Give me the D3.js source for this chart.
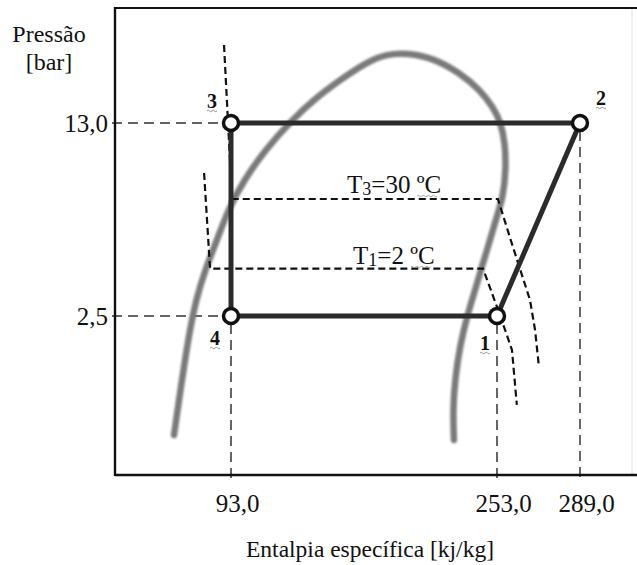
<!DOCTYPE html>
<html>
<head>
<meta charset="utf-8">
<script src="https://cdn.jsdelivr.net/npm/d3@7"></script>
<style>
  html, body { margin: 0; padding: 0; background: #fff; }
  svg { display: block; }
  text { font-family: "Liberation Serif", "DejaVu Serif", serif; fill: #111; }
</style>
</head>
<body>
<svg id="chart" width="637" height="565"></svg>
<script>
// ---- data (enthalpy h [kJ/kg], pressure p [bar]) ----
const hTicks = [93, 253, 289];
const pTicks = [13, 2.5];

// cycle states: 1 -> 2 -> 3 -> 4 -> 1
const stateNames = ["1", "2", "3", "4"];
const stateH = [253, 289, 93, 93];
const stateP = [2.5, 13, 13, 2.5];

// saturation dome (schematic), left foot -> top -> right foot
const domeH = [58.7, 61.7, 65.3, 68.3, 71.9, 77.4, 84.6, 91.2, 100.8, 113.5, 129.7, 144.1, 158.6, 174.8, 186.8, 198.9, 214.5, 230.7, 242.8, 250.6, 254.7, 256.5, 256.9, 255.6, 253.4, 248.8, 244.6, 239.8, 235.6, 230.7, 227.7, 226.5, 227.1];
const domeP = [0.905, 1.22, 1.717, 2.218, 2.866, 3.703, 4.785, 6.183, 7.988, 10.32, 13.34, 16.10, 18.77, 21.89, 23.44, 23.64, 22.65, 19.93, 17.23, 14.90, 13.0, 10.96, 8.70, 6.91, 6.03, 4.79, 3.93, 3.12, 2.57, 1.95, 1.447, 1.12, 0.867];

// isotherms (schematic)
const isoT3H = [88.8, 93.6, 253.4, 259.9, 267.3, 269.5, 271.2];
const isoT3P = [25.3, 6.79, 6.79, 4.51, 2.87, 2.22, 1.62];
const isoT1H = [76.8, 80.4, 244.6, 253.0, 256.5, 259.5, 261.6];
const isoT1P = [8.48, 3.75, 3.75, 2.70, 2.22, 1.87, 1.17];

const isoLabels = ["T", "3", "=30 ºC"];
const isoLabels1 = ["T", "1", "=2 ºC"];

const yTitle = ["Pressão", "[bar]"];
const xTitle = "Entalpia específica [kj/kg]";

// ---- scales ----
const svg = d3.select("#chart");
const x = d3.scaleLinear()
  .domain([23.2, 93, 253, 289, 313.7])
  .range([115, 231, 497, 580, 637]);
const y = d3.scaleLog()
  .domain([0.643, 34.7])
  .range([475, 8]);

const fmt = d => d.toFixed(1).replace(".", ",");
const serif = "Liberation Serif, DejaVu Serif, serif";

// blur for the dome
const defs = svg.append("defs");
defs.append("filter").attr("id", "soft")
  .append("feGaussianBlur").attr("stdDeviation", 0.9);

// frame
const x0 = x.range()[0], x1 = 637, yTop = y.range()[1], yBot = y.range()[0];
svg.append("line").attr("x1", 632).attr("x2", 632).attr("y1", yTop).attr("y2", yBot)
  .attr("stroke", "#e4e4e4").attr("stroke-width", 1.2);
svg.append("line").attr("x1", x0).attr("x2", x1).attr("y1", yTop).attr("y2", yTop)
  .attr("stroke", "#111").attr("stroke-width", 2.2);

// dashed reference lines
const refG = svg.append("g").attr("stroke", "#333").attr("stroke-width", 1.5)
  .attr("stroke-dasharray", "10,6").attr("fill", "none");
[[stateH[2], stateP[2]], [stateH[3], stateP[3]]].forEach(([h, p]) => {
  refG.append("line").attr("x1", x0 - 3).attr("x2", x(h) - 8).attr("y1", y(p)).attr("y2", y(p));
});
[[stateH[3], stateP[3]], [stateH[0], stateP[0]], [stateH[1], stateP[1]]].forEach(([h, p]) => {
  refG.append("line").attr("x1", x(h)).attr("x2", x(h)).attr("y1", y(p) + 8).attr("y2", yBot + 3);
});

// dome
svg.append("path")
  .datum(d3.zip(domeH, domeP))
  .attr("d", d3.line().x(d => x(d[0])).y(d => y(d[1])).curve(d3.curveBasis))
  .attr("fill", "none").attr("stroke", "#7a7a7a").attr("stroke-width", 6.5)
  .attr("stroke-linecap", "round").attr("filter", "url(#soft)");

// isotherms
const isoLine = d3.line().x(d => x(d[0])).y(d => y(d[1])).curve(d3.curveLinear);
[[isoT3H, isoT3P], [isoT1H, isoT1P]].forEach(([hs, ps]) => {
  svg.append("path").datum(d3.zip(hs, ps)).attr("d", isoLine)
    .attr("fill", "none").attr("stroke", "#111").attr("stroke-width", 2.2)
    .attr("stroke-dasharray", "7,4");
});

// cycle
const order = [0, 1, 2, 3, 0];
svg.append("path")
  .datum(order.map(i => [stateH[i], stateP[i]]))
  .attr("d", d3.line().x(d => x(d[0])).y(d => y(d[1])))
  .attr("fill", "none").attr("stroke", "#2b2b2b").attr("stroke-width", 5)
  .attr("stroke-linejoin", "round");

svg.append("g").selectAll("circle")
  .data(d3.range(4))
  .join("circle")
  .attr("cx", i => x(stateH[i])).attr("cy", i => y(stateP[i]))
  .attr("r", 7.5).attr("fill", "#fff").attr("stroke", "#111").attr("stroke-width", 3.5);

// state labels
const labelOffsets = { "1": [-12, 34], "2": [21, -18], "3": [-19, -15], "4": [-16, 29] };
stateNames.forEach((n, i) => {
  const [dx, dy] = labelOffsets[n];
  const lx = x(stateH[i]) + dx, ly = y(stateP[i]) + dy;
  svg.append("text").attr("x", lx).attr("y", ly)
    .attr("text-anchor", "middle").attr("font-size", 20).attr("font-weight", "bold")
    .text(n);
  svg.append("path")
    .attr("d", `M${lx - 5},${ly + 3} q1.25,-1.5 2.5,0 t2.5,0 t2.5,0 t2.5,0`)
    .attr("fill", "none").attr("stroke", "#888").attr("stroke-width", 0.9);
});

// isotherm labels
function isoLabel(parts, lx, ly) {
  const t = svg.append("text").attr("x", lx).attr("y", ly).attr("font-size", 25);
  t.append("tspan").text(parts[0]);
  t.append("tspan").attr("font-size", 18).attr("dy", 2).text(parts[1]);
  t.append("tspan").attr("dy", -2).text(parts[2]);
  const w = t.node().getComputedTextLength();
  svg.append("path")
    .attr("d", `M${lx + w - 24},${ly + 3} q1.25,-1.5 2.5,0 t2.5,0 t2.5,0 t2.5,0 t2.5,0 t2.5,0 t2.5,0 t2.5,0`)
    .attr("fill", "none").attr("stroke", "#999").attr("stroke-width", 0.9);
}
isoLabel(isoLabels, 347, 193);
isoLabel(isoLabels1, 353, 264);

// axes
const xAxis = d3.axisBottom(x).tickValues(hTicks).tickSize(0).tickPadding(0).tickFormat(fmt);
const gx = svg.append("g").attr("transform", `translate(0,${yBot})`).call(xAxis)
  .attr("font-family", serif);
gx.select(".domain").attr("d", `M${x0},0H${x1}`).attr("stroke", "#111").attr("stroke-width", 2.4);
gx.selectAll(".tick text").attr("font-size", 25)
  .attr("fill", "#111").attr("dy", null).attr("y", 37).attr("dx", 6);

const yAxis = d3.axisLeft(y).tickValues(pTicks).tickSize(0).tickPadding(7).tickFormat(fmt);
const gy = svg.append("g").attr("transform", `translate(${x0},0)`).call(yAxis)
  .attr("font-family", serif);
gy.select(".domain").attr("d", `M0,${yTop - 1}V${yBot + 1}`).attr("stroke", "#111").attr("stroke-width", 2.4);
gy.selectAll(".tick text").attr("font-size", 25)
  .attr("fill", "#111").attr("dy", "0.33em");

// titles
svg.append("text").attr("x", 49).attr("y", 42).attr("text-anchor", "middle")
  .attr("font-size", 24).text(yTitle[0]);
svg.append("text").attr("x", 49).attr("y", 70).attr("text-anchor", "middle")
  .attr("font-size", 24).text(yTitle[1]);
svg.append("text").attr("x", 370).attr("y", 557).attr("text-anchor", "middle")
  .attr("font-size", 23.5).text(xTitle);
</script>
</body>
</html>
